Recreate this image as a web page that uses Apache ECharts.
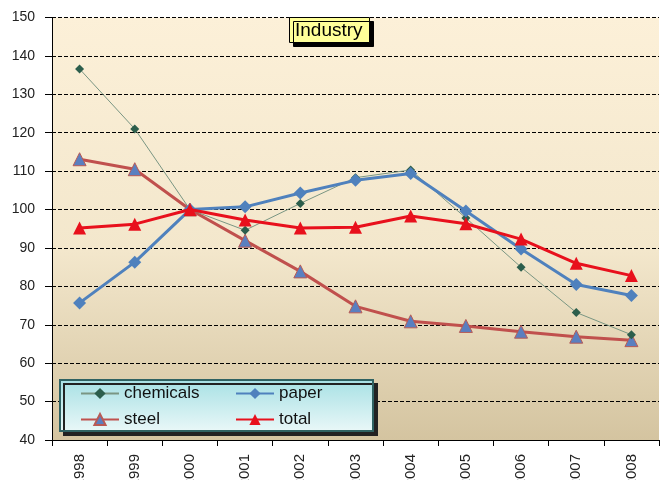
<!DOCTYPE html>
<html>
<head>
<meta charset="utf-8">
<script src="https://cdn.jsdelivr.net/npm/echarts@6/dist/echarts.min.js"></script>
<style>
  html, body { margin: 0; padding: 0; background: #fff; }
  #chart { width: 662px; height: 480px; }
</style>
</head>
<body>
<div id="chart"></div>
<script>
// data
var years = ['1998', '1999', '2000', '2001', '2002', '2003', '2004', '2005', '2006', '2007', '2008'];
var chemicals = [136.6, 121, 100, 94.6, 101.6, 108.3, 110.3, 97.8, 85, 73.2, 67.4];
var paper = [75.7, 86.3, 100, 100.7, 104.3, 107.6, 109.4, 99.6, 89.7, 80.5, 77.6];
var steel = [113.1, 110.5, 100, 91.9, 83.9, 74.8, 70.9, 69.7, 68.2, 66.9, 66];
var total = [95.2, 96.2, 100, 97.3, 95.2, 95.4, 98.3, 96.3, 92.3, 86, 82.8];

var font = 'Liberation Sans, Arial, sans-serif';

// two legend columns drawn over one shared box
function legendColumn(left, names) {
    return {
        orient: 'vertical',
        left: left,
        top: 385,
        padding: 0,
        itemGap: 9,
        itemWidth: 38,
        itemHeight: 14,
        z: 20,
        textStyle: { fontSize: 17, color: '#111', fontFamily: font },
        data: names
    };
}

var chart = echarts.init(document.getElementById('chart'));
chart.setOption({
    animation: false,
    backgroundColor: '#fff',
    textStyle: { fontFamily: font },
    title: {
        text: 'Industry',
        left: 289,
        top: 17,
        padding: [4, 7, 3, 6],
        backgroundColor: '#ffff99',
        borderColor: '#000',
        borderWidth: 1,
        shadowColor: '#000',
        shadowOffsetX: 4,
        shadowOffsetY: 4,
        textStyle: { fontSize: 19, fontWeight: 'normal', color: '#000', fontFamily: font }
    },
    grid: {
        left: 52,
        right: 3,
        top: 17.5,
        bottom: 40,
        outerBoundsMode: 'none',
        containLabel: false,
        show: true,
        borderWidth: 0,
        backgroundColor: new echarts.graphic.LinearGradient(0, 0, 0, 1, [
            { offset: 0, color: '#fcf0d8' },
            { offset: 0.55, color: '#f3e7cc' },
            { offset: 1, color: '#d4c4a0' }
        ])
    },
    graphic: [{
        type: 'rect',
        z: 10,
        shape: { x: 60, y: 380, width: 313, height: 51 },
        style: {
            fill: new echarts.graphic.LinearGradient(0, 0, 0, 1, [
                { offset: 0, color: '#a6e0e4' },
                { offset: 1, color: '#eaf8f8' }
            ]),
            stroke: '#2f6262',
            lineWidth: 2,
            shadowColor: '#222',
            shadowOffsetX: 4,
            shadowOffsetY: 4
        }
    }],
    legend: [
        legendColumn(80, ['chemicals', 'steel']),
        legendColumn(235, ['paper', 'total'])
    ],
    xAxis: {
        type: 'category',
        data: years,
        boundaryGap: true,
        axisLine: { lineStyle: { color: '#000', width: 1 } },
        axisTick: { show: true, length: 6, lineStyle: { color: '#000' } },
        axisLabel: { rotate: 90, fontSize: 15, color: '#222', margin: 14 }
    },
    yAxis: {
        type: 'value',
        min: 40,
        max: 150,
        interval: 10,
        axisLine: { show: true, lineStyle: { color: '#000', width: 1 } },
        axisTick: { show: true, length: 7, lineStyle: { color: '#000' } },
        axisLabel: { fontSize: 14, color: '#222', margin: 17 },
        splitLine: { lineStyle: { color: '#000', type: [4, 2], width: 1 } }
    },
    series: [
        {
            name: 'chemicals',
            type: 'line',
            data: chemicals,
            symbol: 'diamond',
            symbolSize: 9,
            lineStyle: { color: '#7a9683', width: 1 },
            itemStyle: { color: '#2c5e4c' },
            z: 3
        },
        {
            name: 'paper',
            type: 'line',
            data: paper,
            symbol: 'diamond',
            symbolSize: 13,
            lineStyle: { color: '#4f81bd', width: 3 },
            itemStyle: { color: '#4f81bd' },
            z: 4
        },
        {
            name: 'steel',
            type: 'line',
            data: steel,
            symbol: 'triangle',
            symbolSize: 13,
            lineStyle: { color: '#c0504d', width: 3 },
            itemStyle: { color: '#5a7fc0', borderColor: '#b85a55', borderWidth: 1 },
            z: 2
        },
        {
            name: 'total',
            type: 'line',
            data: total,
            symbol: 'triangle',
            symbolSize: 13,
            lineStyle: { color: '#e8101c', width: 3 },
            itemStyle: { color: '#e8101c' },
            z: 5
        }
    ]
});
</script>
</body>
</html>
